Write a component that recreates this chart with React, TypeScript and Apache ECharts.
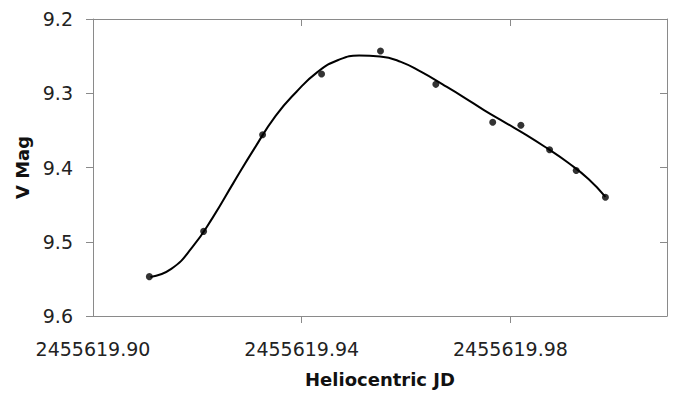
import React, { useEffect, useRef } from "react";
import * as echarts from "echarts";

// Observed photometry (Heliocentric JD, V magnitude)
const obsJD = [
  2455619.9108, 2455619.9212, 2455619.9325, 2455619.9438, 2455619.9551,
  2455619.9657, 2455619.9766, 2455619.982, 2455619.9875, 2455619.9926,
  2455619.9982,
];
const obsMag = [
  9.547, 9.486, 9.356, 9.274, 9.243, 9.288, 9.339, 9.343, 9.376, 9.404, 9.44,
];

// Fitted trend curve
const fitJD = [
  2455619.911, 2455619.915, 2455619.919, 2455619.923, 2455619.927,
  2455619.931, 2455619.935, 2455619.939, 2455619.943, 2455619.947,
  2455619.951, 2455619.955, 2455619.959, 2455619.963, 2455619.967,
  2455619.971, 2455619.975, 2455619.979, 2455619.983, 2455619.987,
  2455619.991, 2455619.995, 2455619.9982,
];
const fitMag = [
  9.5475, 9.5365, 9.5077, 9.4668, 9.4197, 9.3736, 9.3304, 9.2979, 9.2715,
  9.2552, 9.2492, 9.2504, 9.2577, 9.2717, 9.2881, 9.3051, 9.323, 9.3395,
  9.356, 9.374, 9.3933, 9.4157, 9.4395,
];

const xLabelValues = [2455619.9, 2455619.94, 2455619.98];
const xTickValues = [2455619.94, 2455619.98];
const yTickValues = [9.2, 9.3, 9.4, 9.5, 9.6];

const X_MIN = 2455619.9;
const X_MAX = 2455620.01;
const Y_MIN = 9.2;
const Y_MAX = 9.6;

const AXIS_COLOR = "#8a8a8a";
const FONT = "DejaVu Sans";

export default function App() {
  const ref = useRef<HTMLDivElement>(null);
  useEffect(() => {
    if (!ref.current) return;
    const chart = echarts.init(ref.current, undefined, { renderer: "svg" });
    const obs = obsJD.map((x, i) => [x, obsMag[i]]);
    const fit = fitJD.map((x, i) => [x, fitMag[i]]);
    chart.setOption({
      animation: false,
      backgroundColor: "#ffffff",
      grid: { left: 93, right: 6, top: 19, bottom: 74, containLabel: false },
      xAxis: [
        {
          type: "value",
          position: "bottom",
          min: X_MIN,
          max: X_MAX,
          name: "Heliocentric JD",
          nameLocation: "middle",
          nameGap: 54,
          nameTextStyle: {
            fontFamily: FONT,
            fontWeight: "bold",
            fontSize: 18,
            color: "#111",
          },
          axisLine: { show: true, lineStyle: { color: AXIS_COLOR, width: 1 } },
          axisTick: {
            show: true,
            inside: false,
            length: 7,
            customValues: xTickValues,
            lineStyle: { color: AXIS_COLOR },
          },
          axisLabel: {
            show: true,
            customValues: xLabelValues,
            margin: 23,
            fontFamily: FONT,
            fontSize: 19,
            color: "#222",
            formatter: (v: number) => v.toFixed(2),
          },
          splitLine: { show: false },
        },
        {
          type: "value",
          position: "top",
          min: X_MIN,
          max: X_MAX,
          axisLine: { show: true, lineStyle: { color: AXIS_COLOR, width: 1 } },
          axisTick: {
            show: true,
            inside: true,
            length: 7,
            customValues: xTickValues,
            lineStyle: { color: AXIS_COLOR },
          },
          axisLabel: { show: false },
          splitLine: { show: false },
        },
      ],
      yAxis: [
        {
          type: "value",
          position: "left",
          inverse: true,
          min: Y_MIN,
          max: Y_MAX,
          name: "V Mag",
          nameLocation: "middle",
          nameGap: 62,
          nameRotate: 90,
          nameTextStyle: {
            fontFamily: FONT,
            fontWeight: "bold",
            fontSize: 18,
            color: "#111",
          },
          axisLine: { show: true, lineStyle: { color: AXIS_COLOR, width: 1 } },
          axisTick: {
            show: true,
            inside: false,
            length: 7,
            customValues: yTickValues,
            lineStyle: { color: AXIS_COLOR },
          },
          axisLabel: {
            show: true,
            customValues: yTickValues,
            margin: 20,
            fontFamily: FONT,
            fontSize: 19,
            color: "#222",
            formatter: (v: number) => v.toFixed(1),
          },
          splitLine: { show: false },
        },
        {
          type: "value",
          position: "right",
          inverse: true,
          min: Y_MIN,
          max: Y_MAX,
          axisLine: { show: true, lineStyle: { color: AXIS_COLOR, width: 1 } },
          axisTick: {
            show: true,
            inside: true,
            length: 7,
            customValues: yTickValues,
            lineStyle: { color: AXIS_COLOR },
          },
          axisLabel: { show: false },
          splitLine: { show: false },
        },
      ],
      series: [
        {
          type: "line",
          xAxisIndex: 0,
          yAxisIndex: 0,
          data: fit,
          smooth: 0.5,
          showSymbol: false,
          symbol: "none",
          lineStyle: { color: "#000", width: 2 },
          z: 2,
        },
        {
          type: "scatter",
          xAxisIndex: 0,
          yAxisIndex: 0,
          data: obs,
          symbol: "circle",
          symbolSize: 7,
          itemStyle: { color: "#000" },
          z: 3,
        },
      ],
    });
    return () => chart.dispose();
  }, []);
  return (
    <div
      ref={ref}
      style={{ position: "fixed", left: 0, top: 0, width: 673, height: 393 }}
    />
  );
}
